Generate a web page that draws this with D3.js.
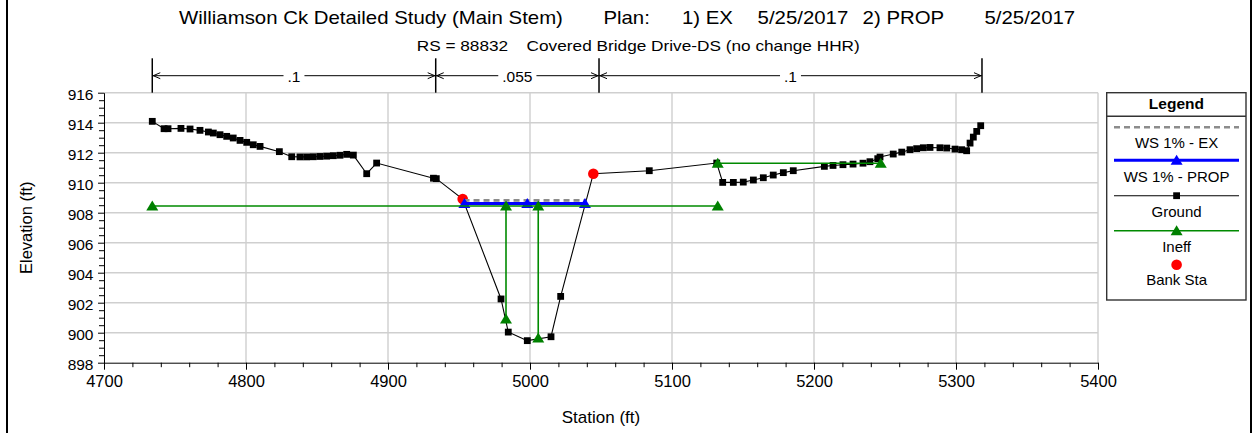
<!DOCTYPE html>
<html>
<head>
<meta charset="utf-8">
<script src="https://cdn.jsdelivr.net/npm/d3@7"></script>
<style>
html,body{margin:0;padding:0;background:#fff;}
svg{display:block;font-family:"Liberation Sans",Arial,sans-serif;}
</style>
</head>
<body>
<svg id="chart" width="1255" height="433"></svg>
<script>
// ---------------- DATA ----------------
const xTicks = [4700, 4800, 4900, 5000, 5100, 5200, 5300, 5400];
const yTicks = [898, 900, 902, 904, 906, 908, 910, 912, 914, 916];

const groundSta = [4734.0, 4742.3, 4745.1, 4754.2, 4760.6, 4767.6, 4773.5, 4777.0, 4781.7, 4786.4,
  4791.0, 4795.8, 4800.5, 4805.1, 4809.9, 4823.5, 4832.2, 4838.0, 4842.7, 4847.4,
  4852.1, 4856.8, 4861.5, 4866.2, 4870.9, 4875.6, 4885.0, 4892.0, 4932.0, 4934.0,
  4952.6, 4979.6, 4984.7, 4998.1, 5014.8, 5021.6, 5044.6, 5084.0, 5131.5, 5135.7,
  5143.2, 5150.2, 5157.3, 5164.3, 5171.3, 5178.4, 5185.4, 5207.3, 5213.4, 5220.4,
  5227.5, 5234.5, 5239.4, 5244.9, 5246.5, 5255.8, 5261.8, 5267.6, 5272.3, 5277.0,
  5281.7, 5288.7, 5293.5, 5299.3, 5304.0, 5307.5, 5309.9, 5312.2, 5314.6, 5317.4];
const groundElev = [914.09, 913.60, 913.60, 913.62, 913.58, 913.49, 913.38, 913.31, 913.20, 913.09,
  912.98, 912.82, 912.69, 912.53, 912.42, 912.07, 911.73, 911.72, 911.72, 911.73,
  911.75, 911.77, 911.80, 911.83, 911.89, 911.84, 910.60, 911.31, 910.30, 910.27,
  908.91, 902.25, 900.04, 899.47, 899.73, 902.42, 910.60, 910.80, 911.31, 910.02,
  910.02, 910.04, 910.18, 910.33, 910.51, 910.67, 910.80, 911.09, 911.15, 911.20,
  911.24, 911.30, 911.40, 911.60, 911.71, 911.91, 912.04, 912.20, 912.27, 912.33,
  912.35, 912.33, 912.31, 912.24, 912.20, 912.13, 912.64, 913.04, 913.42, 913.80];

const bankSta = [4952.6, 5044.6];
const bankElev = [908.91, 910.60];

const wsExSta = [4953.2, 5039.6];
const wsExElev = [908.82, 908.82];

const wsPropSta = [4953.8, 4998.1, 5038.7];
const wsPropElev = [908.62, 908.62, 908.62];

// ineffective flow polylines (station, elevation)
const ineffLeftSta = [4734.0, 4983.1, 4983.1];
const ineffLeftElev = [908.45, 908.45, 900.91];
const ineffMidSta = [4983.1, 5005.8];
const ineffMidElev = [908.45, 908.45];
const ineffRightSta = [5005.8, 5005.8, 5132.2];
const ineffRightElev = [899.65, 908.45, 908.45];
const ineffUpperSta = [5132.2, 5247.0];
const ineffUpperElev = [911.30, 911.30];

const manningSta = [4734.0, 4933.6, 5048.6, 5318.3];
const manningN = [".1", ".055", ".1"];

const titleTexts = ["Williamson Ck Detailed Study (Main Stem)", "Plan:", "1) EX", "5/25/2017", "2) PROP", "5/25/2017"];
const subTitleTexts = ["RS = 88832", "Covered Bridge Drive-DS (no change HHR)"];
const legendLabels = ["WS 1% - EX", "WS 1% - PROP", "Ground", "Ineff", "Bank Sta"];

// ---------------- LAYOUT ----------------
const svg = d3.select("#chart");
const L = 104, R = 1098, T = 92.7, B = 362.7;
const x = d3.scaleLinear().domain([4700, 5400]).range([L, R]);
const y = d3.scaleLinear().domain([898, 916]).range([B, T]);
const FONT = '"Liberation Sans", Arial, sans-serif';

function stext(g, px, py, str, size, sx, anchor, weight) {
  return g.append("text")
    .attr("transform", `translate(${px},${py}) scale(${sx},1)`)
    .attr("text-anchor", anchor || "start")
    .attr("font-size", size)
    .attr("font-weight", weight || "normal")
    .attr("fill", "#000")
    .text(str);
}

// outer frame side lines
svg.append("line").attr("x1", 7).attr("x2", 7).attr("y1", 0).attr("y2", 433).attr("stroke", "#000").attr("stroke-width", 2);
svg.append("line").attr("x1", 1251).attr("x2", 1251).attr("y1", 0).attr("y2", 433).attr("stroke", "#000").attr("stroke-width", 2);

// titles
const titleX = [179, 603.4, 682, 757.6, 862.6, 984.5];
titleTexts.forEach((t, i) => stext(svg, titleX[i], 24, t, 18, 1.133));
const subX = [416.7, 526.6];
subTitleTexts.forEach((t, i) => stext(svg, subX[i], 50.7, t, 14, 1.232));

// grid
const grid = svg.append("g");
grid.selectAll("line.gx").data(xTicks.filter(d => d > 4700)).join("line")
  .attr("x1", d => x(d)).attr("x2", d => x(d)).attr("y1", T).attr("y2", B)
  .attr("stroke", "#cfcfcf").attr("stroke-width", 1.4);
grid.selectAll("line.gy").data(yTicks.filter(d => d > 898)).join("line")
  .attr("x1", L).attr("x2", R).attr("y1", d => y(d)).attr("y2", d => y(d))
  .attr("stroke", "#cfcfcf").attr("stroke-width", 1.4);

// axes
const minorX = d3.range(4700, 5401, 20).filter(d => d % 100 !== 0);
const minorY = d3.range(898, 916.01, 0.5).filter(d => d % 2 !== 0);

const gxMinor = svg.append("g").attr("transform", `translate(0,${B})`)
  .call(d3.axisBottom(x).tickValues(minorX).tickSize(4.5).tickSizeOuter(0).tickFormat(""));
gxMinor.select(".domain").remove();
const gx = svg.append("g").attr("transform", `translate(0,${B})`)
  .call(d3.axisBottom(x).tickValues(xTicks).tickSize(7).tickSizeOuter(0).tickFormat(d3.format("d")));
gx.selectAll("text").attr("y", 24.6).attr("dy", 0).attr("font-size", 16.5).attr("font-family", FONT).attr("fill", "#000");

const gyMinor = svg.append("g").attr("transform", `translate(${L},0)`)
  .call(d3.axisLeft(y).tickValues(minorY).tickSize(5).tickSizeOuter(0).tickFormat(""));
gyMinor.select(".domain").remove();
const gy = svg.append("g").attr("transform", `translate(${L},0)`)
  .call(d3.axisLeft(y).tickValues(yTicks).tickSize(6).tickSizeOuter(0).tickFormat(d3.format("d")));
gy.selectAll("text").attr("x", -10.5).attr("dy", "0.42em").attr("font-size", 15.5).attr("font-family", FONT).attr("fill", "#000");
svg.selectAll(".domain").attr("stroke", "#000");

svg.append("text").attr("x", x(5050)).attr("y", 423).attr("text-anchor", "middle")
  .attr("font-size", 17).text("Station (ft)");
svg.append("text").attr("transform", `translate(31.5,${(T + B) / 2}) rotate(-90)`)
  .attr("text-anchor", "middle").attr("font-size", 16.5).text("Elevation (ft)");

// manning's n markers
const mg = svg.append("g");
const arrowY = 75.7;
manningSta.forEach(s => {
  mg.append("line").attr("x1", x(s)).attr("x2", x(s)).attr("y1", 58.3).attr("y2", T)
    .attr("stroke", "#000").attr("stroke-width", 1.5);
});
manningN.forEach((n, i) => {
  const x0 = x(manningSta[i]), x1 = x(manningSta[i + 1]);
  const cx = (x0 + x1) / 2;
  const t = mg.append("text").attr("x", cx).attr("y", 81.5).attr("text-anchor", "middle")
    .attr("font-size", 15.5).text(n);
  const w = t.node().getComputedTextLength();
  mg.append("line").attr("x1", x0).attr("x2", cx - w / 2 - 4).attr("y1", arrowY).attr("y2", arrowY).attr("stroke", "#000");
  mg.append("line").attr("x1", cx + w / 2 + 4).attr("x2", x1).attr("y1", arrowY).attr("y2", arrowY).attr("stroke", "#000");
  mg.append("path").attr("d", `M${x0 + 8},${arrowY - 3}L${x0 + 1},${arrowY}L${x0 + 8},${arrowY + 3}`)
    .attr("fill", "none").attr("stroke", "#000");
  mg.append("path").attr("d", `M${x1 - 8},${arrowY - 3}L${x1 - 1},${arrowY}L${x1 - 8},${arrowY + 3}`)
    .attr("fill", "none").attr("stroke", "#000");
});

// plot border lines (axes already black, top/right gray grid)
// ---------------- SERIES ----------------
const ground = groundSta.map((s, i) => [s, groundElev[i]]);
const line = d3.line().x(d => x(d[0])).y(d => y(d[1]));

svg.append("path").datum(ground).attr("d", line).attr("fill", "none").attr("stroke", "#000").attr("stroke-width", 1.1);
svg.selectAll("rect.gp").data(ground).join("rect").attr("class", "gp")
  .attr("x", d => x(d[0]) - 3.4).attr("y", d => y(d[1]) - 3.4).attr("width", 6.8).attr("height", 6.8).attr("fill", "#000");

// bank stations
const banks = bankSta.map((s, i) => [s, bankElev[i]]);
svg.selectAll("circle.bk").data(banks).join("circle").attr("class", "bk")
  .attr("cx", d => x(d[0])).attr("cy", d => y(d[1])).attr("r", 5.3).attr("fill", "#ff0000");

// WS EX
const wsEx = wsExSta.map((s, i) => [s, wsExElev[i]]);
svg.append("path").datum(wsEx).attr("d", line).attr("fill", "none").attr("stroke", "#8c8c8c")
  .attr("stroke-width", 2.6).attr("stroke-dasharray", "6,4");

// WS PROP
const wsProp = wsPropSta.map((s, i) => [s, wsPropElev[i]]);
svg.append("path").datum(wsProp).attr("d", line).attr("fill", "none").attr("stroke", "#0000ff").attr("stroke-width", 3);
const tri = (cx, cy) => `M${cx - 6},${cy + 4.5}L${cx + 6},${cy + 4.5}L${cx},${cy - 5.5}Z`;
svg.selectAll("path.wp").data(wsProp).join("path").attr("class", "wp")
  .attr("d", d => tri(x(d[0]), y(d[1]))).attr("fill", "#0000ff");

// ineffective
const ineffSets = [
  [ineffLeftSta, ineffLeftElev, true],
  [ineffMidSta, ineffMidElev, false],
  [ineffRightSta, ineffRightElev, true],
  [ineffUpperSta, ineffUpperElev, true]
];
ineffSets.forEach(([st, el, mk]) => {
  const pts = st.map((s, i) => [s, el[i]]);
  svg.append("path").datum(pts).attr("d", line).attr("fill", "none").attr("stroke", "#008a00").attr("stroke-width", 1.6);
  if (mk) {
    pts.forEach(d => svg.append("path").attr("d", tri(x(d[0]), y(d[1]))).attr("fill", "#008000"));
  }
});

// ---------------- LEGEND ----------------
const lg = svg.append("g");
lg.append("rect").attr("x", 1106.7).attr("y", 92.7).attr("width", 139.3).attr("height", 207.3)
  .attr("fill", "#fff").attr("stroke", "#333").attr("stroke-width", 1.4);
lg.append("line").attr("x1", 1106.7).attr("x2", 1246).attr("y1", 116.3).attr("y2", 116.3).attr("stroke", "#333").attr("stroke-width", 1.4);
lg.append("text").attr("x", 1176.4).attr("y", 108.7).attr("text-anchor", "middle")
  .attr("font-size", 15.5).attr("font-weight", "bold").text("Legend");
const lcx = 1176.6, lx0 = 1114, lx1 = 1239;
lg.append("line").attr("x1", lx0).attr("x2", lx1).attr("y1", 127.3).attr("y2", 127.3)
  .attr("stroke", "#8c8c8c").attr("stroke-width", 2.6).attr("stroke-dasharray", "6,4");
lg.append("line").attr("x1", lx0).attr("x2", lx1).attr("y1", 160.3).attr("y2", 160.3).attr("stroke", "#0000ff").attr("stroke-width", 3);
lg.append("path").attr("d", tri(lcx, 160.3)).attr("fill", "#0000ff");
lg.append("line").attr("x1", lx0).attr("x2", lx1).attr("y1", 195.7).attr("y2", 195.7).attr("stroke", "#000").attr("stroke-width", 1.1);
lg.append("rect").attr("x", lcx - 3.4).attr("y", 195.7 - 3.4).attr("width", 6.8).attr("height", 6.8).attr("fill", "#000");
lg.append("line").attr("x1", lx0).attr("x2", lx1).attr("y1", 230.7).attr("y2", 230.7).attr("stroke", "#008a00").attr("stroke-width", 1.6);
lg.append("path").attr("d", tri(lcx, 230.7)).attr("fill", "#008000");
lg.append("circle").attr("cx", lcx).attr("cy", 264.7).attr("r", 5.3).attr("fill", "#ff0000");
const legY = [148, 182, 217.3, 252, 285.3];
legendLabels.forEach((t, i) => lg.append("text").attr("x", lcx).attr("y", legY[i]).attr("text-anchor", "middle")
  .attr("font-size", 15).text(t));
</script>
</body>
</html>
